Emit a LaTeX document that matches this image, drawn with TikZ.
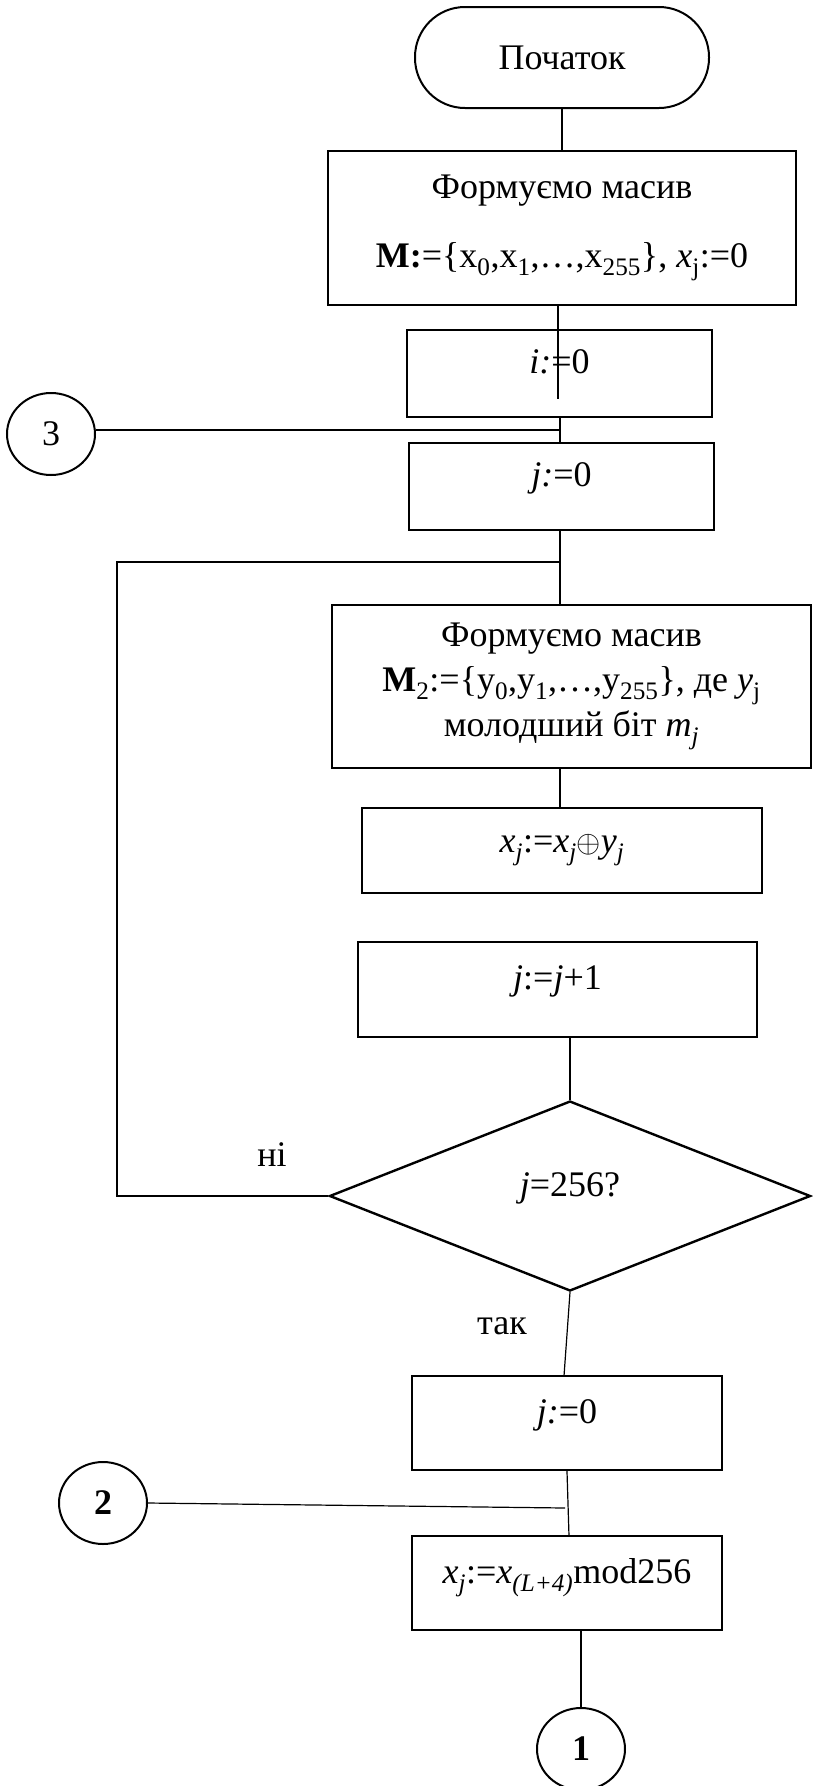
\documentclass[tikz,border=0pt]{standalone}
\usepackage{fontspec}
\usepackage{graphicx}
\setmainfont{Liberation Serif}
\usetikzlibrary{shapes.geometric}
\newcommand\sub[1]{\textsubscript{#1}}
\newcommand\xorsign{\scalebox{1.25}{$\mathord{\oplus}$}}
\begin{document}
\begin{tikzpicture}[x=1pt,y=-1pt,
  every node/.style={font=\fontsize{36}{45}\selectfont, inner sep=0pt},
  blk/.style={draw, line width=2.4pt, rectangle, minimum height=87pt},
  mid/.style={text height=20pt, text depth=20pt},
  term/.style={draw, line width=2pt, rectangle, rounded corners=50pt,
               minimum width=294pt, minimum height=101pt},
  cond/.style={draw, line width=2.4pt, diamond, minimum width=481pt, minimum height=190pt},
  conn/.style={draw, line width=2pt, ellipse, minimum width=88pt, minimum height=82pt},
  bnum/.style={font=\fontsize{36}{45}\selectfont\bfseries},
  wire/.style={line width=1.2pt}]
\useasboundingbox (0,0) rectangle (812,1786);
\fill[white] (0,0) rectangle (812,1786);

% process blocks
\node[term] (start) at (562,57.5) {Початок};
\node[blk, minimum width=468pt, minimum height=154pt, align=center] (arrM) at (562,228)
  {Формуємо масив\\[24pt]{\bfseries M:}=\{x\sub{0},x\sub{1},…,x\sub{255}\}, \textit{x}\sub{j}:=0};
\node[blk, mid, minimum width=305pt] (iz) at (559.5,373.5) {\textit{i:}=0};
\node[blk, mid, minimum width=305pt] (jz) at (561.5,486.5) {\textit{j:}=0};
\node[blk, minimum width=479pt, minimum height=163pt, align=center] (arrMb) at (571.5,686.5)
  {Формуємо масив\\{\bfseries M}\sub{2}:=\{y\sub{0},y\sub{1},…,y\sub{255}\}, де \textit{y}\sub{j}\\молодший біт \textit{m\sub{j}}};
\node[blk, minimum width=400pt, minimum height=85pt] (xor) at (562,850.5)
  {\textit{x\sub{j}}:=\textit{x\sub{j}}\xorsign\textit{y\sub{j}}};
\node[blk, mid, minimum width=399pt, minimum height=95pt] (inc) at (557.5,989.5) {\textit{j}:=\textit{j}+1};
\node[cond, mid] (test) at (570,1196) {\textit{j}=256?};
\node[blk, mid, minimum width=310pt, minimum height=94pt] (jzb) at (567,1423) {\textit{j:}=0};
\node[blk, mid, minimum width=310pt, minimum height=94pt] (shift) at (567,1583)
  {\textit{x\sub{j}}:=\textit{x\sub{(L+4)}}mod256};

% connectors (page links)
\node[conn] (c3) at (51,434) {3};
\node[conn, bnum] (c2) at (103,1503) {2};
\node[conn, bnum] (c1) at (581,1749) {1};

% branch labels
\node (no) at (272,1155) {ні};
\node (yes) at (502,1326) {так};

% flow lines
\coordinate (a1) at (558,399);
\coordinate (m3) at (560,430);
\coordinate (looptop) at (560,562);
\coordinate (loopleft) at (117,1196);
\coordinate (t1) at (564,1376);
\coordinate (s1) at (569,1536);
\coordinate (m2) at (565,1508);

\draw[wire] (start.south) -- (arrM.north);
\draw[wire] (arrM.south -| a1) -- (a1);
\draw[wire] (iz.south -| m3) -- (jz.north -| m3);
\draw[wire] (c3.east |- m3) -- (m3);
\draw[wire] (jz.south -| looptop) -- (arrMb.north -| looptop);
\draw[wire] (test.west) -- (loopleft) |- (looptop);
\draw[wire] (arrMb.south -| looptop) -- (xor.north -| looptop);
\draw[wire] (inc.south -| test.north) -- (test.north);
\draw[wire] (test.south) -- (t1);
\draw[wire] (jzb.south) -- (s1);
\draw[wire] (c2.east) -- (m2);
\draw[wire] (shift.south -| c1.north) -- (c1.north);
\end{tikzpicture}
\end{document}
